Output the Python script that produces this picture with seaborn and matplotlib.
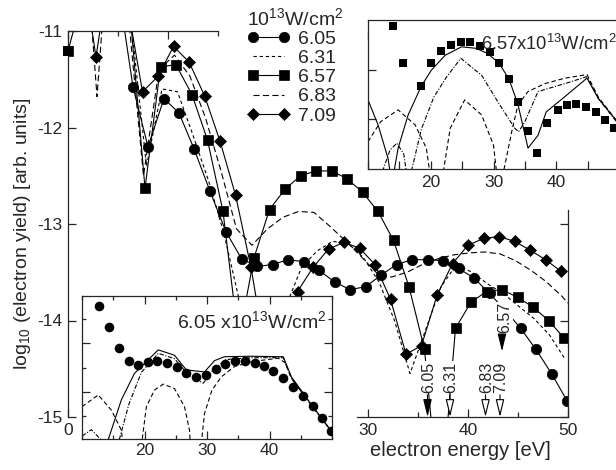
import seaborn as sns
import matplotlib.pyplot as plt
from matplotlib.ticker import MultipleLocator

# ---- main panel: log10(electron yield) vs electron energy, intensity in 10^13 W/cm^2 ----
E_605 = [0.3, 1.85, 3.4, 4.95, 6.5, 8.0, 9.6, 11.1, 12.6, 14.2, 15.8, 17.35, 18.9, 20.45, 22.0, 23.55,
         25.1, 26.65, 28.2, 29.75, 31.3, 32.85, 34.4, 35.95, 37.5, 39.05, 40.6, 42.15, 43.7, 45.25,
         46.8, 48.35, 49.9]
Y_605 = [-10.5, -10.4, -10.6, -10.5, -11.58, -12.2, -11.7, -11.85, -12.22, -12.66, -13.08, -13.36,
         -13.44, -13.42, -13.37, -13.39, -13.48, -13.60, -13.68, -13.65, -13.53, -13.42, -13.37,
         -13.37, -13.38, -13.46, -13.56, -13.72, -13.89, -14.08, -14.30, -14.55, -14.83]

E_631 = [0.1, 1.65, 3.2, 4.75, 6.3, 7.85, 9.4, 10.95, 12.5, 14.05, 15.6, 17.15, 18.7, 20.25, 21.8,
         23.35, 24.9, 26.45, 28.0, 29.55, 31.1, 32.65, 34.2, 35.75, 37.3, 38.85, 40.4, 41.95, 43.5,
         45.05, 46.6, 48.15, 49.7]
Y_631 = [-10.5, -10.6, -10.7, -10.6, -10.9, -12.4, -11.6, -11.63, -12.08, -12.55, -13.1, -13.8,
         -14.6, -14.8, -13.85, -13.45, -13.28, -13.18, -13.2, -13.35, -13.6, -14.0, -14.55, -14.1,
         -13.65, -13.42, -13.5, -13.62, -13.72, -13.85, -13.98, -14.15, -14.4]

E_657 = [0.0, 1.55, 3.1, 4.65, 6.15, 7.7, 9.25, 10.8, 12.4, 13.95, 15.5, 17.05, 18.6, 20.15, 21.7,
         23.25, 24.8, 26.35, 27.9, 29.45, 31.0, 32.55, 34.1, 35.65, 37.2, 38.75, 40.3, 41.85, 43.4,
         44.95, 46.5, 48.05, 49.6]
Y_657 = [-11.21, -10.6, -10.7, -10.6, -10.75, -12.63, -11.37, -11.35, -11.66, -12.13, -12.87, -14.2,
         -13.35, -12.85, -12.64, -12.50, -12.45, -12.45, -12.53, -12.67, -12.87, -13.17, -13.65,
         -14.3, -16.0, -14.08, -13.81, -13.70, -13.68, -13.76, -13.86, -14.0, -14.18]

E_683 = [0.0, 1.35, 2.9, 4.45, 6.0, 7.55, 9.1, 10.65, 12.2, 13.75, 15.3, 16.85, 18.4, 19.95, 21.5,
         23.05, 24.6, 26.15, 27.7, 29.25, 30.8, 32.35, 33.9, 35.45, 37.0, 38.55, 40.1, 41.65, 43.2,
         44.75, 46.3, 47.85, 49.4, 50.0]
Y_683 = [-10.5, -9.5, -11.68, -9.5, -10.8, -12.5, -11.4, -11.25, -11.47, -11.9, -12.45, -13.05,
         -13.22, -13.05, -12.93, -12.87, -12.88, -13.02, -13.17, -13.33, -13.5, -13.55, -13.5,
         -13.42, -13.36, -13.32, -13.3, -13.29, -13.31, -13.38, -13.48, -13.6, -13.75, -13.82]

E_709 = [1.25, 2.8, 4.35, 5.9, 7.45, 9.0, 10.55, 12.1, 13.65, 15.2, 16.75, 18.3, 19.85, 21.4, 22.95,
         24.5, 26.05, 27.6, 29.15, 30.7, 32.25, 33.8, 35.35, 36.9, 38.45, 40.0, 41.55, 43.1, 44.65,
         46.2, 47.75, 49.3]
Y_709 = [-10.2, -11.27, -10.2, -10.7, -11.63, -11.47, -11.16, -11.32, -11.67, -12.14, -12.70, -13.45,
         -14.4, -14.5, -13.70, -13.45, -13.26, -13.19, -13.25, -13.42, -13.78, -14.35, -14.26,
         -13.74, -13.41, -13.22, -13.15, -13.13, -13.18, -13.27, -13.37, -13.49]

# arrows marking the enhancement positions
ARROW_LABELS = ["6.05", "6.31", "6.83", "7.09"]
ARROW_E = [35.95, 38.2, 41.75, 43.2]
ARROW_FILLED = [True, False, False, False]
ARROW_657_E = 43.4

# ---- bottom-left inset: 6.05e13 W/cm^2 (experiment dots + three theory curves) ----
BL_DOT_E = [12.67, 14.27, 15.87, 17.47, 18.96, 20.56, 22.05, 23.55, 25.15, 26.7, 28.3, 29.8, 31.4,
            32.9, 34.5, 36.0, 37.6, 39.1, 40.6, 42.2, 43.7, 45.3, 46.9, 48.4, 49.9]
BL_DOT_Y = [2.76, 2.32, 1.89, 1.64, 1.55, 1.62, 1.63, 1.60, 1.52, 1.39, 1.31, 1.35, 1.46, 1.57, 1.63,
            1.63, 1.60, 1.53, 1.43, 1.28, 1.11, 0.92, 0.71, 0.46, 0.20]
BL_SOLID_E = [14.0, 16.3, 18.4, 20.3, 22.2, 24.8, 26.7, 29.6, 31.2, 32.8, 37.0, 42.2, 43.5, 46.5, 49.9]
BL_SOLID_Y = [-0.05, 0.84, 1.38, 1.62, 1.86, 1.75, 1.45, 1.41, 1.64, 1.72, 1.73, 1.72, 1.31, 0.78, 0.2]
BL_DASHDOT_E = [10.0, 11.5, 13.6, 14.7, 15.8, 17.5, 19.5, 22.2, 24.8, 27.0, 29.4, 31.0, 33.0, 37.0,
                42.2, 43.5, 46.5, 49.9]
BL_DASHDOT_Y = [0.1, 0.23, -0.05, -0.4, -0.05, 0.75, 1.40, 1.79, 1.68, 1.35, 1.18, 1.45, 1.66, 1.70,
                1.70, 1.28, 0.76, 0.2]
BL_DASH_E = [10.0, 12.6, 14.7, 16.3, 16.8, 19.2, 20.3, 21.6, 23.0, 24.8, 26.4, 27.2, 27.5, 28.8, 29.6,
             30.8, 32.3, 34.4, 37.1, 41.4, 42.5, 43.5, 46.5, 49.9]
BL_DASH_Y = [0.70, 0.94, 0.63, 0.22, -0.4, -0.4, 0.70, 1.04, 1.16, 1.07, 0.70, 0.22, -0.4, -0.4, 0.56,
             1.04, 1.31, 1.52, 1.62, 1.69, 1.60, 1.28, 0.76, 0.2]

# ---- top-right inset: 6.57e13 W/cm^2 ----
TR_SQ_E = [14.0, 15.5, 18.5, 20.1, 21.6, 23.2, 24.8, 26.3, 27.8, 29.4, 30.9, 32.5, 33.9, 35.5, 37.0,
           38.6, 40.2, 41.7, 43.2, 44.7, 46.3, 47.8, 49.2]
TR_SQ_Y = [2.88, 2.13, 1.67, 2.13, 2.38, 2.50, 2.56, 2.56, 2.48, 2.35, 2.13, 1.81, 1.34, 0.76, 0.32,
           0.92, 1.19, 1.29, 1.30, 1.25, 1.14, 0.99, 0.82]
TR_SOLID_E = [10.0, 11.6, 13.2, 13.8, 14.8, 16.4, 18.5, 20.1, 22.3, 24.9, 27.2, 29.0, 30.9, 32.5, 33.9,
              35.5, 37.1, 38.4, 41.4, 44.9, 46.7, 49.3, 50.5]
TR_SOLID_Y = [1.39, 0.89, 0.21, -0.3, 0.42, 1.09, 1.67, 1.99, 2.29, 2.46, 2.43, 2.33, 2.13, 1.8, 1.30,
              0.42, 0.68, 1.15, 1.46, 1.83, 1.42, 1.02, 0.85]
TR_DASHDOT_E = [12.3, 13.5, 14.6, 15.7, 16.4, 17.0, 18.5, 20.5, 22.5, 24.8, 26.5, 28.1, 30.7, 33.4,
                34.0, 35.0, 37.1, 41.4, 44.9, 46.7, 49.3, 50.5]
TR_DASHDOT_Y = [-0.05, 0.38, 0.52, 0.3, -0.3, 0.0, 0.8, 1.45, 1.85, 2.23, 2.05, 1.89, 1.35, 0.82, 0.75,
                0.95, 1.56, 1.72, 1.86, 1.42, 1.0, 0.83]
TR_DASH_E = [10.0, 12.0, 14.8, 17.5, 19.3, 20.1, 21.7, 23.1, 25.4, 28.1, 30.0, 30.7, 31.2, 32.9, 33.9,
             35.5, 38.2, 41.4, 44.9, 46.7, 49.3, 50.5]
TR_DASH_Y = [0.55, 0.95, 1.19, 0.89, 0.42, -0.3, -0.3, 0.82, 1.39, 1.09, 0.48, -0.3, -0.3, 0.75, 1.29,
             1.56, 1.72, 1.83, 1.90, 1.45, 1.02, 0.85]


sns.set_theme(style="ticks", rc={"axes.linewidth": 0.9, "xtick.direction": "in", "ytick.direction": "in"})
plt.rcParams["font.family"] = ["Liberation Sans", "DejaVu Sans"]
plt.rcParams["axes.unicode_minus"] = False
plt.rcParams["mathtext.default"] = "regular"

W, H = 616, 470
fig = plt.figure(figsize=(W / 100, H / 100), dpi=100)

# main axes
ax = fig.add_axes([68 / W, 1 - 417 / H, 500 / W, 386 / H])
kw = dict(ax=ax, color="black", lw=0.8, markeredgecolor="black", markeredgewidth=0.5)
sns.lineplot(x=E_605, y=Y_605, marker="o", markersize=7.5, label="6.05", **kw)
sns.lineplot(x=E_631, y=Y_631, linestyle=(0, (3, 2.5)), label="6.31", **kw)
sns.lineplot(x=E_657, y=Y_657, marker="s", markersize=7, label="6.57", **kw)
sns.lineplot(x=E_683, y=Y_683, linestyle=(0, (5.5, 3)), label="6.83", **kw)
sns.lineplot(x=E_709, y=Y_709, marker="D", markersize=6.5, label="7.09", **kw)
# first square sits on the left spine and is drawn whole
sns.scatterplot(x=E_657[:1], y=Y_657[:1], ax=ax, marker="s", s=49, color="black", linewidth=0,
                clip_on=False, zorder=4, legend=False)

ax.set_xlim(0, 50)
ax.set_ylim(-15, -11)
ax.set_xticks([0, 10, 20, 30, 40, 50])
ax.set_xticklabels(["0", "", "", "30", "40", "50"])
ax.xaxis.set_minor_locator(MultipleLocator(5))
ax.set_yticks([-15, -14, -13, -12, -11])
ax.set_yticklabels(["-15", "-14", "-13", "-12", "-11"])
ax.tick_params(which="both", direction="in", top=True, right=True, labelsize=12.5, width=0.9, pad=4)
ax.tick_params(which="major", length=6)
ax.tick_params(which="minor", length=3.5)
ax.spines["top"].set_bounds(0, 15)
ax.spines["right"].set_bounds(-15, -12.85)
ax.spines["bottom"].set_bounds(28.9, 50)

ax.set_xlabel("electron energy [eV]", fontsize=14.5)
ax.xaxis.set_label_coords(0.784, -0.062)
ax.set_ylabel("log$_{10}$ (electron yield) [arb. units]", fontsize=14)
ax.yaxis.set_label_coords(-0.07, 0.475)

leg = ax.legend(loc="upper left", bbox_to_anchor=(243 / W, 1 - 3 / H), bbox_transform=fig.transFigure,
                title="10$^{13}$W/cm$^2$", alignment="left", fontsize=14, title_fontsize=14,
                numpoints=2, handlelength=2.2, handletextpad=0.45, labelspacing=0.08,
                borderpad=0.2, borderaxespad=0, frameon=True, framealpha=1, edgecolor="none",
                facecolor="white", fancybox=False)

lab_kw = dict(rotation=90, ha="center", va="center", fontsize=11.5,
              bbox=dict(fc="white", ec="none", pad=0.3))
head = "-|>,head_length=0.9,head_width=0.22"
for lab, e, filled in zip(ARROW_LABELS, ARROW_E, ARROW_FILLED):
    ax.text(e + 0.1, -14.59, lab, **lab_kw)
    ax.annotate("", xy=(e, -15.0), xytext=(e, -14.77),
                arrowprops=dict(arrowstyle=head, lw=0.8, color="black",
                                fc="black" if filled else "white", mutation_scale=12,
                                shrinkA=0, shrinkB=0))
ax.text(ARROW_657_E + 0.3, -13.97, "6.57", **lab_kw)
ax.annotate("", xy=(ARROW_657_E, -14.32), xytext=(ARROW_657_E, -14.15),
            arrowprops=dict(arrowstyle=head, lw=0.8, color="black", fc="black",
                            mutation_scale=12, shrinkA=0, shrinkB=0))

# bottom-left inset
axb = fig.add_axes([82 / W, 1 - 439 / H, 250 / W, 143 / H])
axb.set_facecolor("white")
ikw = dict(ax=axb, color="black", lw=0.8, legend=False)
sns.lineplot(x=BL_SOLID_E, y=BL_SOLID_Y, linestyle="-", **ikw)
sns.lineplot(x=BL_DASHDOT_E, y=BL_DASHDOT_Y, linestyle=(0, (4, 1.5, 1, 1.5)), **ikw)
sns.lineplot(x=BL_DASH_E, y=BL_DASH_Y, linestyle=(0, (4, 2.5)), **ikw)
sns.scatterplot(x=BL_DOT_E, y=BL_DOT_Y, ax=axb, color="black", s=48, linewidth=0, marker="o", zorder=3)
axb.set_xlim(10, 50)
axb.set_ylim(0.04, 2.96)
axb.set_xticks([20, 30, 40])
axb.xaxis.set_minor_locator(MultipleLocator(5))
axb.set_yticks([1, 2])
axb.yaxis.set_minor_locator(MultipleLocator(0.5))
axb.tick_params(which="both", direction="in", top=True, right=True, labelleft=False,
                labelsize=12.5, width=0.9, pad=3)
axb.tick_params(which="major", length=6)
axb.tick_params(which="minor", length=3)
axb.text(0.38, 0.776, "6.05 x10$^{13}$W/cm$^2$", transform=axb.transAxes, fontsize=14,
         ha="left", va="baseline")

# top-right inset
axt = fig.add_axes([368 / W, 1 - 169 / H, 251 / W, 149 / H])
axt.set_facecolor("white")
ikw = dict(ax=axt, color="black", lw=0.8, legend=False)
sns.lineplot(x=TR_SOLID_E, y=TR_SOLID_Y, linestyle="-", **ikw)
sns.lineplot(x=TR_DASHDOT_E, y=TR_DASHDOT_Y, linestyle=(0, (4, 1.5, 1, 1.5)), **ikw)
sns.lineplot(x=TR_DASH_E, y=TR_DASH_Y, linestyle=(0, (4, 2.5)), **ikw)
sns.scatterplot(x=TR_SQ_E, y=TR_SQ_Y, ax=axt, color="black", s=40, linewidth=0, marker="s", zorder=3)
axt.set_xlim(10, 50)
axt.set_ylim(0, 3)
axt.set_xticks([20, 30, 40])
axt.xaxis.set_minor_locator(MultipleLocator(5))
axt.set_yticks([1, 2])
axt.tick_params(which="both", direction="in", labelleft=False, labelsize=12.5, width=0.9, pad=4)
axt.tick_params(which="major", length=6)
axt.tick_params(which="minor", length=6)
axt.text(0.45, 0.80, "6.57x10$^{13}$W/cm$^2$", transform=axt.transAxes, fontsize=13.2,
         ha="left", va="baseline")

fig.savefig("out.png", dpi=100)
